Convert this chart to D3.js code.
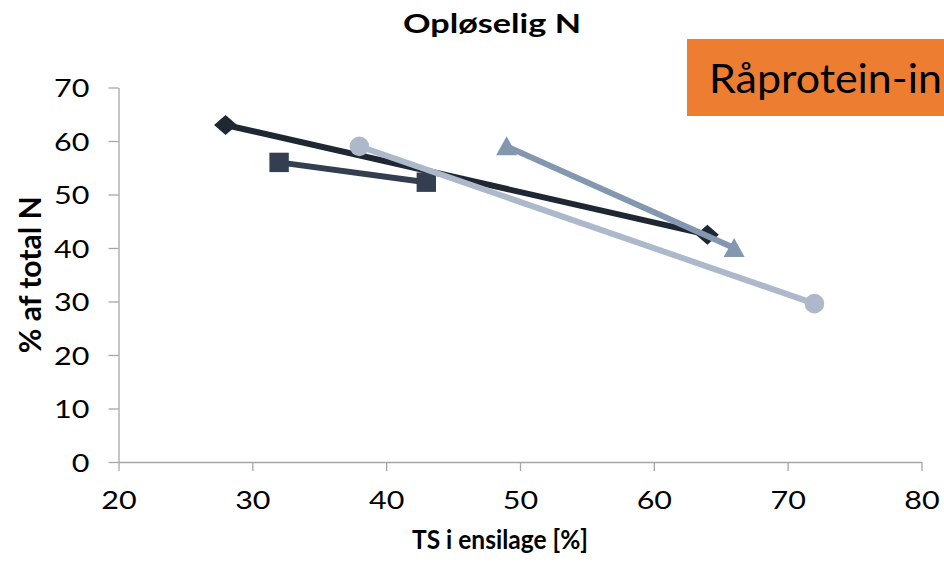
<!DOCTYPE html>
<html>
<head>
<meta charset="utf-8">
<script src="https://cdn.jsdelivr.net/npm/d3@7/dist/d3.min.js"></script>
<style>
  html, body { margin: 0; padding: 0; background: #fff; overflow: hidden; }
  svg { display: block; font-family: Lato, "Open Sans", sans-serif; }
</style>
</head>
<body>
<svg id="chart" width="944" height="562"></svg>
<script>
// Dry-matter content (x) and soluble N share (y) for four silage series
const seriesNames = ["A", "B", "C", "D"];
const seriesX = [
  [28, 64],
  [32, 43],
  [38, 72],
  [49, 66]
];
const seriesY = [
  [63, 42.5],
  [56, 52.3],
  [59, 29.6],
  [59, 40]
];
const seriesColors = ["#1f2733", "#333f50", "#adb9ca", "#8497b0"];
const seriesMarkers = ["diamond", "square", "circle", "triangle"];

const xTicks = [20, 30, 40, 50, 60, 70, 80];
const yTicks = [0, 10, 20, 30, 40, 50, 60, 70];

const svg = d3.select("#chart");
const plotLeft = 118.5, plotRight = 921.5, plotTop = 87.5, plotBottom = 462;
const widen = 1.22; // horizontal glyph stretch used by the text

const x = d3.scaleLinear().domain([20, 80]).range([plotLeft, plotRight]);
const y = d3.scaleLinear().domain([0, 70]).range([plotBottom, plotTop]);

// Stretch a text horizontally, keeping its anchor in place
function stretch(sel, factor) {
  sel.each(function () {
    const w = this.getComputedTextLength();
    d3.select(this).attr("textLength", w * factor).attr("lengthAdjust", "spacingAndGlyphs");
  });
}

// Axes
const xAxis = svg.append("g")
  .attr("transform", `translate(0,${plotBottom})`)
  .call(d3.axisBottom(x).tickValues(xTicks).tickSize(9).tickPadding(18).tickSizeOuter(0));
const yAxis = svg.append("g")
  .attr("transform", `translate(${plotLeft},0)`)
  .call(d3.axisLeft(y).tickValues(yTicks).tickSize(10).tickPadding(19).tickSizeOuter(0));

[xAxis, yAxis].forEach(g => {
  g.select(".domain").attr("stroke", "#a6a6a6").attr("stroke-width", 1.3);
  g.selectAll(".tick line").attr("stroke", "#a6a6a6").attr("stroke-width", 1.3);
  g.selectAll(".tick text")
    .attr("fill", "#000")
    .style("font-family", "Lato, 'Open Sans', sans-serif")
    .style("font-size", "25px");
});
xAxis.selectAll(".tick text").attr("dy", "0.8em");
yAxis.selectAll(".tick text").attr("dy", "0.36em");
stretch(xAxis.selectAll(".tick text"), widen);
stretch(yAxis.selectAll(".tick text"), widen);

// Marker shapes (width, height in px)
function markerPath(kind) {
  if (kind === "diamond") return "M-11.5,0L0,-10L11.5,0L0,10Z";
  if (kind === "square") return "M-9.7,-9.7H9.7V9.7H-9.7Z";
  if (kind === "triangle") return "M0,-10L10.5,9L-10.5,9Z";
  return d3.symbol().type(d3.symbolCircle).size(Math.PI * 9.8 * 9.8)();
}

// Series: connecting line, then markers
const line = d3.line().x(d => x(d[0])).y(d => y(d[1]));
seriesNames.forEach((name, i) => {
  const pts = seriesX[i].map((v, j) => [v, seriesY[i][j]]);
  const g = svg.append("g").attr("class", "series-" + name);
  g.append("path")
    .datum(pts)
    .attr("d", line)
    .attr("fill", "none")
    .attr("stroke", seriesColors[i])
    .attr("stroke-width", 6);
  g.selectAll("path.marker")
    .data(pts)
    .join("path")
    .attr("class", "marker")
    .attr("d", markerPath(seriesMarkers[i]))
    .attr("transform", d => `translate(${x(d[0])},${y(d[1])})`)
    .attr("fill", seriesColors[i]);
});

// Titles
const title = svg.append("text")
  .attr("x", 492).attr("y", 33)
  .attr("text-anchor", "middle")
  .style("font-size", "27.5px").style("font-weight", "bold")
  .text("Opløselig N");
title.attr("textLength", 178).attr("lengthAdjust", "spacingAndGlyphs");

const xTitle = svg.append("text")
  .attr("x", 500).attr("y", 549)
  .attr("text-anchor", "middle")
  .style("font-size", "27px").style("font-weight", "bold")
  .text("TS i ensilage [%]");
xTitle.attr("textLength", 176).attr("lengthAdjust", "spacingAndGlyphs");

const yTitle = svg.append("text")
  .attr("transform", `translate(41,${(plotTop + plotBottom) / 2}) scale(${widen},1) rotate(-90)`)
  .attr("text-anchor", "middle")
  .style("font-size", "25px").style("font-weight", "bold")
  .text("% af total N");
yTitle.attr("textLength", 157).attr("lengthAdjust", "spacingAndGlyphs");

// Orange callout box
svg.append("rect")
  .attr("x", 687).attr("y", 39)
  .attr("width", 300).attr("height", 77)
  .attr("fill", "#ed7d31");
svg.append("text")
  .attr("x", 709).attr("y", 93)
  .style("font-size", "41px")
  .attr("fill", "#000")
  .attr("textLength", 233).attr("lengthAdjust", "spacingAndGlyphs")
  .text("Råprotein-in");
</script>
</body>
</html>
